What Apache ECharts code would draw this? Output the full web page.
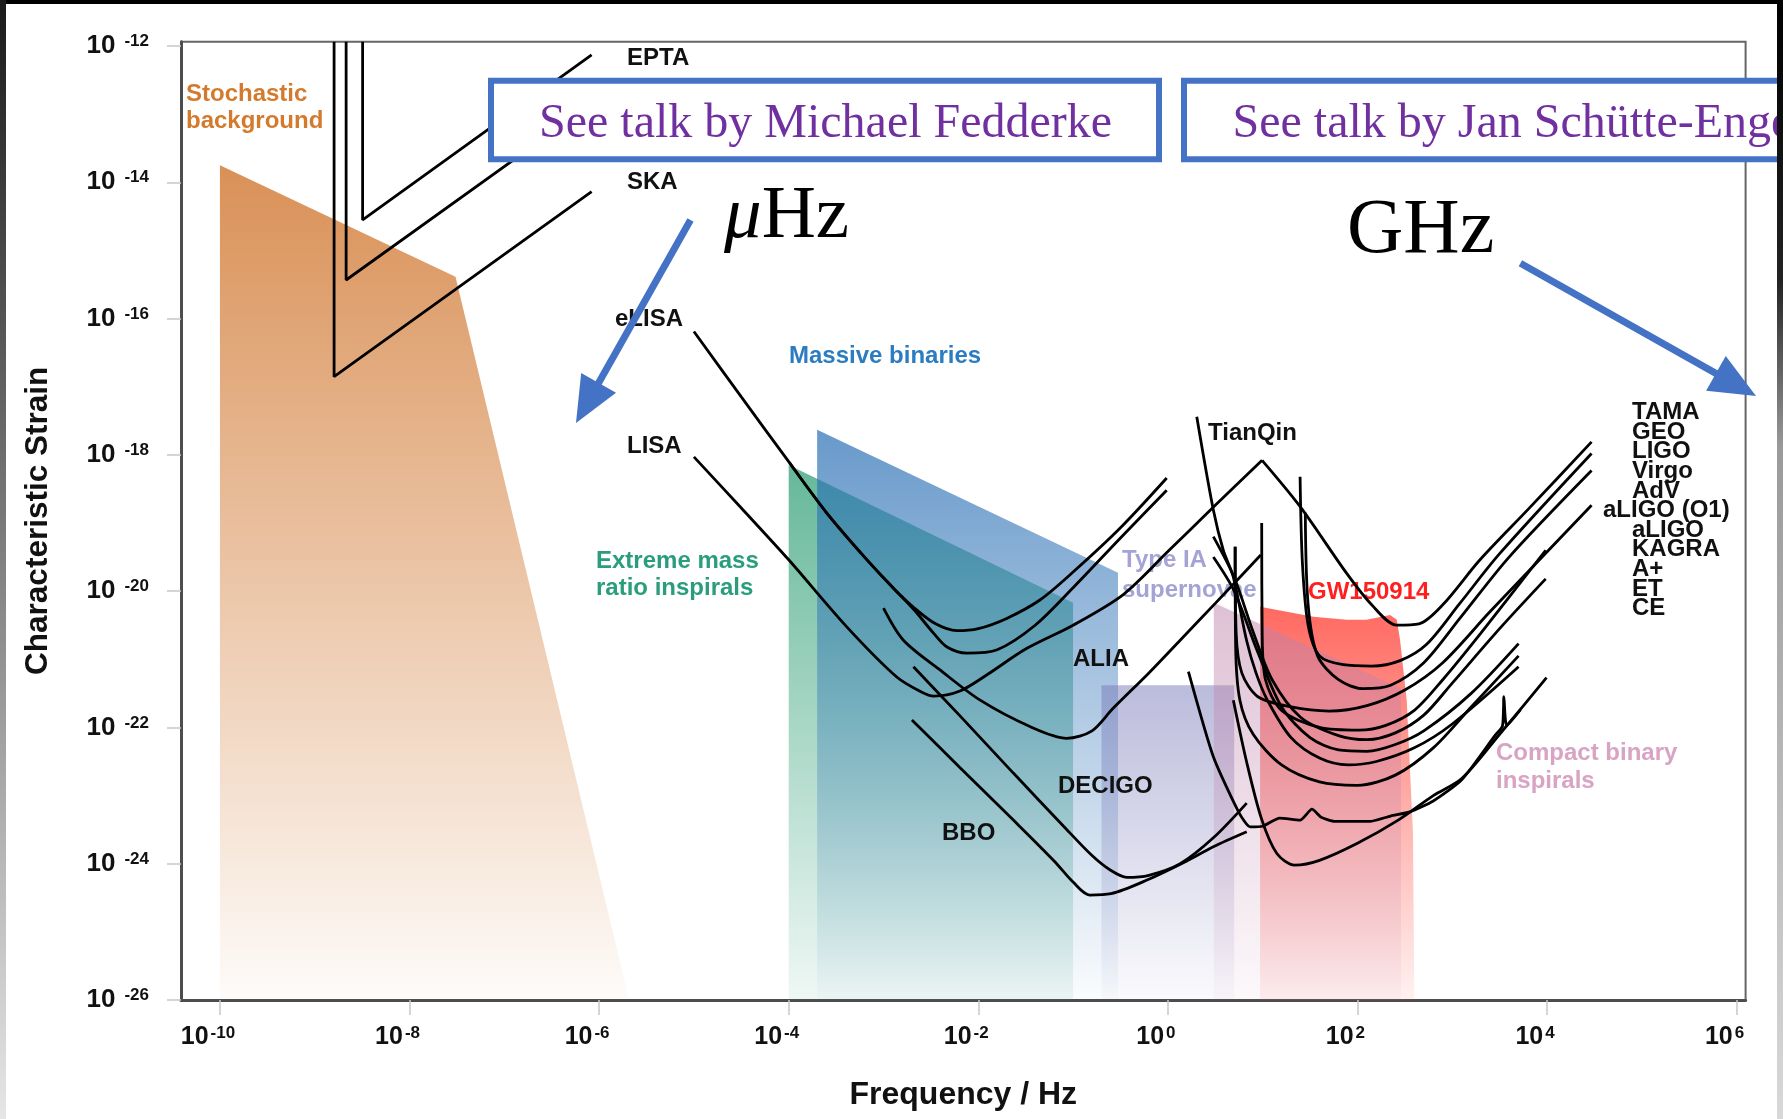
<!DOCTYPE html>
<html><head><meta charset="utf-8">
<script src="https://cdn.jsdelivr.net/npm/echarts@6/dist/echarts.min.js"></script>
<style>html,body{margin:0;padding:0;background:#fff}#c{width:1783px;height:1119px}</style>
</head><body><div id="c"></div>
<script>
// All values are [log10(frequency / Hz), log10(characteristic strain)]
const xTicks = [-10, -8, -6, -4, -2, 0, 2, 4, 6];
const yTicks = [-26, -24, -22, -20, -18, -16, -14, -12];

// ---- shaded source regions ----
const stochastic = [[-10,-26],[-10,-13.75],[-7.515,-15.386],[-5.683,-26]];
const emri = [[-4,-26],[-4,-18.15],[-1,-20.17],[-1,-26]];
const massiveBinaries = [[-3.7,-26],[-3.7,-17.63],[-0.526,-19.73],[-0.526,-26]];
const typeIA = [[-0.7,-26],[-0.7,-21.38],[0.7,-21.38],[0.7,-26]];
const gw150914 = [[0.973,-26],[0.973,-20.23],[1.535,-20.375],[1.887,-20.42],[2.098,-20.42],[2.344,-20.35],[2.415,-20.42],[2.45,-20.72],[2.52,-21.6],[2.586,-23.55],[2.6,-26]];
const compactBinary = [[0.485,-26],[0.485,-20.17],[2.46,-21.43],[2.46,-26]];

// ---- pulsar timing arrays ----
const EPTA = [[-8.495,-11.937],[-8.495,-14.553],[-6.079,-12.13]];
const IPTA = [[-8.669,-11.937],[-8.669,-15.434],[-6.079,-12.85]];
const SKA = [[-8.796,-11.937],[-8.796,-16.853],[-6.079,-14.138]];

// ---- space detectors ----
const eLISA = [[-5.0,-16.19],[-4.5,-17.15],[-4.0,-18.1],[-3.6,-18.85],[-3.2,-19.5],[-2.9,-19.95],[-2.68,-20.24],[-2.45,-20.48],[-2.226,-20.58],[-2.0,-20.55],[-1.7,-20.4],[-1.35,-20.13],[-1.0,-19.72],[-0.5,-19.07],[-0.012,-18.34]];
const TianQin = [[-3.99,-18.12],[-3.6,-18.85],[-3.2,-19.5],[-2.9,-19.95],[-2.68,-20.27],[-2.47,-20.62],[-2.33,-20.82],[-2.12,-20.91],[-1.8,-20.86],[-1.4,-20.5],[-1.0,-19.95],[-0.5,-19.22],[-0.012,-18.52]];
const LISA = [[-5.0,-18.03],[-4.5,-18.78],[-4.0,-19.54],[-3.39,-20.52],[-2.86,-21.26],[-2.6,-21.48],[-2.47,-21.54],[-2.2,-21.47],[-1.9,-21.22],[-1.5,-20.85],[-1.0,-20.5],[-0.47,-20.05],[0.0,-19.42],[0.5,-18.74],[0.994,-18.08]];
const ALIA = [[-3.0,-20.25],[-2.79,-20.72],[-2.4,-21.16],[-1.98,-21.6],[-1.45,-21.99],[-1.067,-22.16],[-0.8,-22.05],[-0.578,-21.72],[-0.2,-21.2],[0.13,-20.72],[0.5,-20.18],[0.98,-19.47]];
const DECIGO = [[-2.684,-21.11],[-2.2,-21.82],[-1.63,-22.67],[-1.1,-23.45],[-0.8,-23.88],[-0.6,-24.1],[-0.433,-24.2],[-0.2,-24.17],[0.13,-24.0],[0.48,-23.62],[0.832,-23.11]];
const BBO = [[-2.70,-21.89],[-2.2,-22.58],[-1.63,-23.36],[-1.2,-23.96],[-1.0,-24.27],[-0.825,-24.46],[-0.6,-24.44],[-0.22,-24.24],[0.2,-23.96],[0.48,-23.75],[0.832,-23.53]];

// ---- ground-based detectors ----
const TAMA = [[0.994,-18.08],[1.396,-18.76],[1.887,-19.74],[2.15,-20.2],[2.415,-20.5],[2.65,-20.48],[2.9,-20.2],[3.293,-19.54],[3.8,-18.8],[4.47,-17.81]];
const GEO = [[1.395,-18.32],[1.42,-19.6],[1.48,-20.5],[1.6,-20.95],[1.85,-21.08],[2.15,-21.1],[2.45,-21.02],[2.73,-20.78],[3.08,-20.18],[3.5,-19.45],[4.47,-17.98]];
const LIGO = [[1.45,-18.85],[1.48,-20.2],[1.58,-20.95],[1.8,-21.3],[2.06,-21.43],[2.35,-21.38],[2.7,-21.05],[3.08,-20.4],[3.6,-19.5],[4.47,-18.23]];
const Virgo = [[0.71,-19.35],[0.72,-20.6],[0.78,-21.2],[0.95,-21.55],[1.3,-21.7],[1.7,-21.76],[2.1,-21.68],[2.5,-21.45],[2.9,-21.05],[3.4,-20.3],[4.47,-18.74]];
const AdV = [[0.99,-19.0],[0.995,-20.6],[1.03,-21.3],[1.2,-21.75],[1.6,-22.0],[2.015,-22.04],[2.3,-21.97],[2.6,-21.75],[2.9,-21.3],[3.3,-20.62],[3.986,-19.4]];
const aLIGO_O1 = [[0.48,-19.2],[0.7,-19.8],[0.9,-20.6],[1.1,-21.3],[1.4,-21.85],[1.8,-22.12],[2.1,-22.18],[2.4,-22.08],[2.7,-21.82],[3.0,-21.35],[3.5,-20.55],[3.986,-19.82]];
const aLIGO = [[0.48,-19.5],[0.7,-20.0],[0.95,-20.9],[1.2,-21.7],[1.5,-22.15],[1.8,-22.33],[2.1,-22.35],[2.4,-22.25],[2.7,-22.05],[3.2,-21.5],[3.7,-20.77]];
const KAGRA = [[0.305,-17.44],[0.48,-18.81],[0.585,-19.4],[0.69,-19.79],[0.83,-20.72],[0.93,-21.2],[1.05,-21.6],[1.3,-22.15],[1.6,-22.45],[1.9,-22.55],[2.2,-22.5],[2.6,-22.3],[3.0,-21.95],[3.7,-21.11]];
const Aplus = [[0.71,-19.35],[0.715,-20.8],[0.76,-21.6],[0.9,-22.1],[1.2,-22.55],[1.6,-22.8],[2.0,-22.85],[2.4,-22.7],[2.8,-22.3],[3.2,-21.7],[3.7,-20.95]];
const ET = [[0.217,-21.18],[0.48,-22.43],[0.75,-23.25],[0.87,-23.46],[1.0,-23.45],[1.18,-23.33],[1.395,-23.36],[1.52,-23.2],[1.62,-23.32],[1.764,-23.38],[2.128,-23.38],[2.35,-23.3],[2.553,-23.24],[2.8,-23.08],[3.1,-22.77],[3.45,-22.12],[3.53,-21.98],[3.545,-21.55],[3.575,-21.97],[3.72,-21.74]];
const CE = [[0.691,-21.6],[0.83,-22.5],[0.99,-23.35],[1.15,-23.85],[1.337,-24.02],[1.6,-23.95],[2.0,-23.7],[2.43,-23.36],[2.8,-23.0],[3.1,-22.75],[3.5,-22.1],[3.995,-21.27]];

const groundLabels = ['TAMA','GEO','LIGO','Virgo','AdV','aLIGO (O1)','aLIGO','KAGRA','A+','ET','CE'];

const FONT = '"Liberation Sans", Arial, Helvetica, sans-serif';
const SERIF = '"Liberation Serif", "Times New Roman", "DejaVu Serif", serif';

function region(name, pts, rgb, a0, a1) {
  return {
    type: 'custom', name, coordinateSystem: 'cartesian2d', z: 1, silent: true, animation: false, clip: true,
    data: [pts[1]],
    renderItem: (p, api) => ({
      type: 'polygon',
      shape: { points: pts.map(q => api.coord(q)) },
      style: { fill: { type: 'linear', x: 0, y: 0, x2: 0, y2: 1,
        colorStops: [{ offset: 0, color: `rgba(${rgb},${a0})` }, { offset: 1, color: `rgba(${rgb},${a1})` }] } }
    })
  };
}
function curve(name, data, smooth) {
  return { type: 'line', name, data, smooth: smooth, showSymbol: false, symbol: 'none', z: 3, silent: true,
    animation: false, clip: true, lineStyle: { color: '#000', width: 2.8 } };
}

const series = [
  region('Stochastic background', stochastic, '214,135,72', 0.92, 0.03),
  region('Extreme mass ratio inspirals', emri, '50,160,120', 0.75, 0.08),
  region('Massive binaries', massiveBinaries, '40,110,180', 0.7, 0.02),
  region('Type IA supernovae', typeIA, '120,120,185', 0.5, 0.03),
  region('GW150914', gw150914, '255,85,75', 0.88, 0.08),
  region('Compact binary inspirals', compactBinary, '190,130,170', 0.5, 0.05),
  curve('EPTA', EPTA, false), curve('IPTA', IPTA, false), curve('SKA', SKA, false),
  curve('eLISA', eLISA, 0.3), curve('TianQin', TianQin, 0.3), curve('LISA', LISA, 0.3), curve('ALIA', ALIA, 0.3),
  curve('DECIGO', DECIGO, 0.3), curve('BBO', BBO, 0.3),
  curve('TAMA', TAMA, 0.3), curve('GEO', GEO, 0.3), curve('LIGO', LIGO, 0.3), curve('Virgo', Virgo, 0.3),
  curve('AdV', AdV, 0.3), curve('aLIGO (O1)', aLIGO_O1, 0.3), curve('aLIGO', aLIGO, 0.3), curve('KAGRA', KAGRA, 0.3),
  curve('A+', Aplus, 0.3), curve('ET', ET, 0.2), curve('CE', CE, 0.3)
];

function txt(text, x, y, color, size, opts) {
  return Object.assign({ type: 'text', x, y, z: 2, silent: true,
    style: { text, fill: color, fontSize: size || 24, fontWeight: 'bold', fontFamily: FONT, align: 'left', verticalAlign: 'middle' } }, opts || {});
}
const G = [];
// slide frame
G.push({ type: 'rect', shape: { x: 0, y: 0, width: 1783, height: 4 }, style: { fill: '#000' }, z: 20 });
G.push({ type: 'rect', shape: { x: 0, y: 0, width: 6, height: 1119 }, style: { fill: { type: 'linear', x: 0, y: 0, x2: 0, y2: 1, colorStops: [{ offset: 0, color: '#1a1a1a' }, { offset: 1, color: '#e6e6e6' }] } }, z: 20 });
G.push({ type: 'rect', shape: { x: 1777, y: 0, width: 6, height: 1119 }, style: { fill: { type: 'linear', x: 0, y: 0, x2: 0, y2: 1, colorStops: [{ offset: 0, color: '#000' }, { offset: 0.25, color: '#222' }, { offset: 0.4, color: '#9a9a9a' }, { offset: 1, color: '#d8d8d8' }] } }, z: 20 });
// labels inside the plot
G.push(txt('Stochastic', 186, 94, '#D47A2C'));
G.push(txt('background', 186, 121, '#D47A2C'));
G.push(txt('EPTA', 627, 58, '#111'));
G.push(txt('SKA', 627, 182, '#111'));
G.push(txt('eLISA', 615, 319, '#111'));
G.push(txt('LISA', 627, 446, '#111'));
G.push(txt('Massive binaries', 789, 356, '#2B7CC0'));
G.push(txt('Extreme mass', 596, 561, '#2A9D7C'));
G.push(txt('ratio inspirals', 596, 588, '#2A9D7C'));
G.push(txt('TianQin', 1208, 433, '#111'));
G.push(txt('ALIA', 1073, 659, '#111'));
G.push(txt('DECIGO', 1058, 786, '#111'));
G.push(txt('BBO', 942, 833, '#111'));
G.push(txt('Type IA', 1122, 560, '#A3A3D6'));
G.push(txt('supernovae', 1122, 590, '#A3A3D6'));
G.push(txt('GW150914', 1308, 592, '#FF1F1F'));
G.push(txt('Compact binary', 1496, 753, '#D9A3C3'));
G.push(txt('inspirals', 1496, 781, '#D9A3C3'));
groundLabels.forEach((t, i) => G.push(txt(t, t === 'aLIGO (O1)' ? 1603 : 1632, 412.5 + 19.6 * i, '#111')));
// annotation boxes
G.push({ type: 'rect', z: 10, shape: { x: 491, y: 80.7, width: 668, height: 78.6 }, style: { fill: '#fff', stroke: '#4472C4', lineWidth: 6 } });
G.push({ type: 'rect', z: 10, shape: { x: 1184, y: 80.7, width: 700, height: 78.6 }, style: { fill: '#fff', stroke: '#4472C4', lineWidth: 6 } });
G.push({ type: 'text', z: 11, x: 539, y: 124, style: { text: 'See talk by Michael Fedderke', fill: '#7030A0', fontSize: 48, fontFamily: SERIF, align: 'left', verticalAlign: 'middle' } });
G.push({ type: 'text', z: 11, x: 1232.5, y: 124, style: { text: 'See talk by Jan Schütte-Engel', fill: '#7030A0', fontSize: 48, fontFamily: SERIF, align: 'left', verticalAlign: 'middle' } });
// frequency-band captions
G.push({ type: 'text', z: 11, x: 724, y: 217, style: { text: '{i|μ}Hz', fill: '#000', fontSize: 75, fontFamily: SERIF, align: 'left', verticalAlign: 'middle', rich: { i: { fontStyle: 'italic', fontSize: 75, fontFamily: SERIF, fill: '#000' } } } });
G.push({ type: 'text', z: 11, x: 1347, y: 232, style: { text: 'GHz', fill: '#000', fontSize: 78, fontFamily: SERIF, align: 'left', verticalAlign: 'middle' } });
// arrows
function arrow(x1, y1, x2, y2) {
  const dx = x2 - x1, dy = y2 - y1, L = Math.hypot(dx, dy), ux = dx / L, uy = dy / L;
  const hl = 46, hw = 20, bx = x2 - ux * hl, by = y2 - uy * hl;
  G.push({ type: 'line', z: 12, shape: { x1, y1, x2: bx + ux * 4, y2: by + uy * 4 }, style: { stroke: '#4472C4', lineWidth: 7 } });
  G.push({ type: 'polygon', z: 12, shape: { points: [[x2, y2], [bx - uy * hw, by + ux * hw], [bx + uy * hw, by - ux * hw]] }, style: { fill: '#4472C4' } });
}
arrow(690.5, 220, 576, 423);
arrow(1520.4, 263.3, 1756, 396);

const supRich = (base, sup, padLeft) => ({
  b: { fontSize: base, fontWeight: 'bold', fontFamily: FONT, color: '#111', lineHeight: base },
  s: { fontSize: sup, fontWeight: 'bold', fontFamily: FONT, color: '#111', lineHeight: 13, verticalAlign: 'top', padding: [0, 0, 0, padLeft] }
});

const option = {
  backgroundColor: '#fff',
  animation: false,
  grid: { left: 181, right: 37.4, top: 41.7, bottom: 119, show: true, borderColor: '#666', borderWidth: 2, backgroundColor: 'transparent' },
  xAxis: {
    type: 'value', min: -10.411, max: 6.095,
    name: 'Frequency / Hz', nameLocation: 'middle', nameGap: 79,
    nameTextStyle: { fontSize: 32, fontWeight: 'bold', fontFamily: FONT, color: '#111' },
    axisLine: { onZero: false, lineStyle: { color: '#4d4d4d', width: 3 } },
    axisTick: { customValues: xTicks, length: 15, lineStyle: { color: '#c8c8c8', width: 1.5 } },
    axisLabel: { customValues: xTicks, margin: 25, padding: [0, 24, 0, 0],
      formatter: v => `{b|10}{s|${Math.round(v)}}`, rich: supRich(25, 17, 2) },
    splitLine: { show: false }
  },
  yAxis: {
    type: 'value', min: -26, max: -11.937,
    name: 'Characteristic Strain', nameLocation: 'middle', nameGap: 127,
    nameTextStyle: { fontSize: 31.5, fontWeight: 'bold', fontFamily: FONT, color: '#111' },
    axisLine: { onZero: false, lineStyle: { color: '#4d4d4d', width: 3 } },
    axisTick: { customValues: yTicks, length: 14, lineStyle: { color: '#c8c8c8', width: 1.5 } },
    axisLabel: { customValues: yTicks, margin: 32,
      formatter: v => `{b|10}{s|${Math.round(v)}}`, rich: supRich(26, 17, 9) },
    splitLine: { show: false }
  },
  graphic: { elements: G },
  series
};
const chart = echarts.init(document.getElementById('c'));
chart.setOption(option);
</script></body></html>
